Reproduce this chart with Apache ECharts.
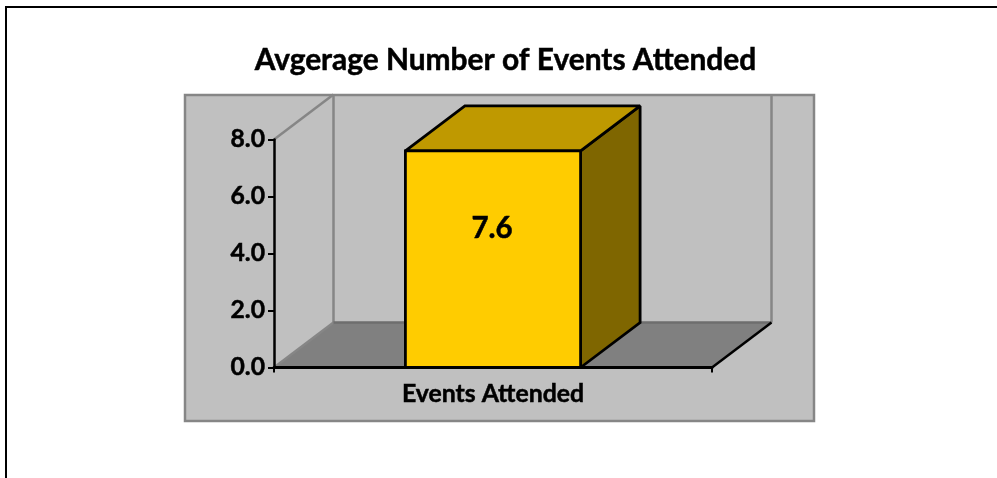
<!DOCTYPE html>
<html>
<head>
<meta charset="utf-8">
<style>html,body{margin:0;padding:0;background:#fff}#c{width:997px;height:478px}</style>
<script src="https://cdn.jsdelivr.net/npm/echarts@6/dist/echarts.min.js"></script>
</head>
<body>
<div id="c"></div>
<script>
const titleText = 'Avgerage Number of Events Attended';
const categories = ['Events Attended'];
const values = [7.6];
const yTicks = ['0.0', '2.0', '4.0', '6.0', '8.0'];

const FONT = 'Lato';
const DX = 59.5, DY = -45;          // oblique depth of the 3D projection
const WALL = '#c0c0c0', FLOOR = '#808080', EDGE = '#868686';

function poly(points, fill, stroke, w) {
  return { type: 'polygon', shape: { points }, style: { fill, stroke, lineWidth: w, lineJoin: 'miter', miterLimit: 2 } };
}
function seg(a, b, stroke, w) {
  return { type: 'line', shape: { x1: a[0], y1: a[1], x2: b[0], y2: b[1] }, style: { stroke, lineWidth: w } };
}

function renderBox(params, api) {
  const cs = params.coordSys;
  const l = cs.x, r = cs.x + cs.width, t = cs.y, b = cs.y + cs.height;
  const off = p => [p[0] + DX, p[1] + DY];
  const children = [
    poly([[l, b], [r, b], off([r, b]), off([l, b])], FLOOR, FLOOR, 1),
    seg([l, b], off([l, b]), EDGE, 2.5),
    seg([l, t], off([l, t]), EDGE, 2.5),
    seg(off([l, t]), off([l, b]), EDGE, 2.5),
    seg(off([r, t]), off([r, b]), EDGE, 2.5),
    seg(off([l, b]), off([r, b]), '#6e6e6e', 2.5),
    seg([r, b], off([r, b]), '#000', 2.5)
  ];
  return { type: 'group', children };
}

function renderBar(params, api) {
  const v = api.value(1);
  const top = api.coord([api.value(0), v]);
  const base = api.coord([api.value(0), 0]);
  const w = api.size([1, 0])[0] * 0.4;
  const x0 = top[0] - w / 2, x1 = top[0] + w / 2, y0 = top[1], y1 = base[1];
  const off = p => [p[0] + DX, p[1] + DY];
  const S = '#000', W = 2.8;
  return {
    type: 'group',
    children: [
      poly([[x1, y0], off([x1, y0]), off([x1, y1]), [x1, y1]], '#7f6600', S, W),
      poly([[x0, y0], [x1, y0], off([x1, y0]), off([x0, y0])], '#bf9900', S, W),
      poly([[x0, y0], [x1, y0], [x1, y1], [x0, y1]], '#ffcc00', S, W),
      {
        type: 'text',
        style: {
          text: v.toFixed(1), x: top[0] - 1, y: y0 + 0.36 * (y1 - y0),
          align: 'center', verticalAlign: 'middle',
          fontFamily: FONT, fontWeight: 'bold', fontSize: 29.5, fill: '#000',
          stroke: '#000', lineWidth: 0.5
        }
      }
    ]
  };
}

const chart = echarts.init(document.getElementById('c'), null, { renderer: 'canvas' });
chart.setOption({
  animation: false,
  backgroundColor: '#fff',
  title: {
    text: titleText, left: 500.5, top: 40, textAlign: 'center',
    textStyle: { fontFamily: FONT, fontWeight: 'bold', fontSize: 29.9, color: '#000', textBorderColor: '#000', textBorderWidth: 0.5 }
  },
  graphic: [
    { type: 'rect', z: -10, shape: { x: 6, y: 7, width: 1200, height: 800 }, style: { fill: '#fff', stroke: '#000', lineWidth: 2 } },
    { type: 'rect', z: -9, shape: { x: 185, y: 95, width: 629, height: 326 }, style: { fill: WALL, stroke: EDGE, lineWidth: 2.5 } }
  ],
  grid: { left: 274, width: 438, top: 139.5, height: 228, containLabel: false },
  xAxis: {
    type: 'category', data: categories, z: 10,
    axisLine: { show: true, lineStyle: { color: '#000', width: 3 } },
    axisTick: { show: true, length: 5, lineStyle: { color: '#000', width: 2 } },
    axisLabel: { color: '#000', fontFamily: FONT, fontWeight: 'bold', fontSize: 24.8, margin: 14, textBorderColor: '#000', textBorderWidth: 0.5 },
    splitLine: { show: false }
  },
  yAxis: {
    type: 'value', min: 0, max: 8, interval: 2, z: 10,
    axisLine: { show: true, lineStyle: { color: '#000', width: 2.5 } },
    axisTick: { show: true, length: 6, lineStyle: { color: '#000', width: 2 } },
    axisLabel: {
      color: '#000', fontFamily: FONT, fontWeight: 'bold', fontSize: 24.7, margin: 9, textBorderColor: '#000', textBorderWidth: 0.5,
      formatter: v => yTicks[v / 2]
    },
    splitLine: { show: false }
  },
  series: [
    { type: 'custom', name: 'walls', z: 1, silent: true, clip: false, renderItem: renderBox, data: [[0, 8]] },
    { type: 'custom', name: 'Events Attended', z: 2, silent: true, clip: false, renderItem: renderBar,
      encode: { x: 0, y: 1 }, data: categories.map((c, i) => [i, values[i]]) }
  ]
});
</script>
</body>
</html>
